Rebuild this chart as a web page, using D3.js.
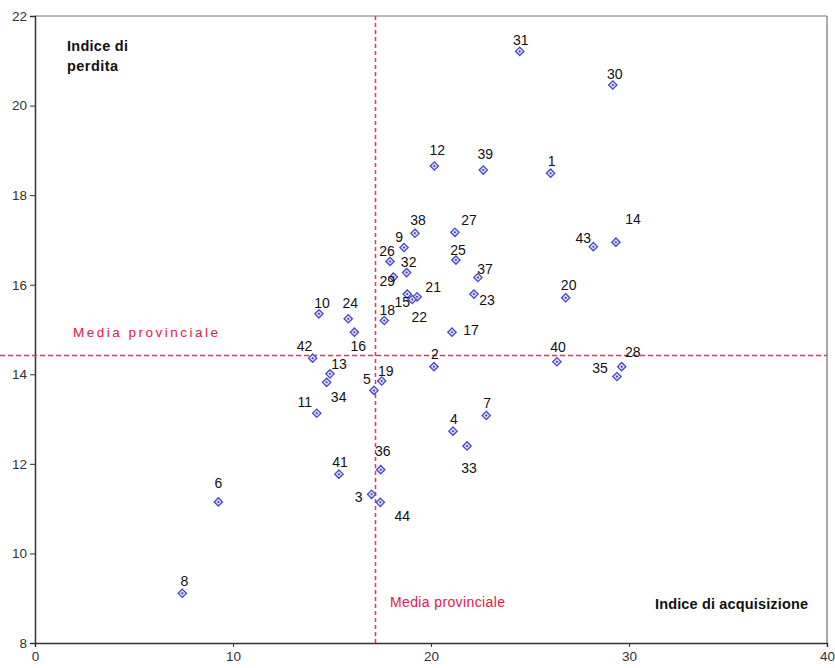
<!DOCTYPE html>
<html><head><meta charset="utf-8">
<script src="https://cdn.jsdelivr.net/npm/d3@7/dist/d3.min.js"></script>
<style>body{margin:0;background:#fff}svg{display:block}</style>
</head><body>
<svg id="c" width="835" height="668"></svg>
<script>
// Data
const ids = [1,2,3,4,5,6,7,8,9,10,11,12,13,14,15,16,17,18,19,20,21,22,23,24,25,26,27,28,29,30,31,32,33,34,35,36,37,38,39,40,41,42,43,44];
const acquisizione = [26.04,20.15,17.0,21.11,17.12,9.26,22.79,7.44,18.64,14.34,14.23,20.17,14.9,29.34,18.8,16.13,21.06,17.64,17.51,26.8,19.3,19.05,22.17,15.82,21.26,17.93,21.21,29.63,18.1,29.18,24.48,18.77,21.82,14.73,29.39,17.46,22.37,19.19,22.64,26.36,15.35,14.02,28.2,17.44];
const perdita = [18.49,14.17,11.32,12.73,13.64,11.15,13.08,9.11,16.83,15.35,13.13,18.65,14.01,16.95,15.79,14.94,14.94,15.2,13.85,15.71,15.73,15.67,15.79,15.24,16.55,16.52,17.17,14.17,16.17,20.46,21.21,16.27,12.4,13.82,13.95,11.87,16.16,17.15,18.56,14.28,11.77,14.36,16.85,11.14];
const mediaAcquisizione = 17.17;
const mediaPerdita = 14.42;
const xTicks = [0,10,20,30,40];
const yTicks = [8,10,12,14,16,18,20,22];

// Label offsets (layout only)
const labelOffset = {
  1:[1,-12],2:[1,-13],3:[-13,3],4:[1,-12],5:[-7,-11],6:[0,-19],7:[1,-12],8:[2,-12],
  9:[-5,-11],10:[3,-11],11:[-12,-11],12:[3,-16],13:[9,-10],14:[17,-23],15:[-5,8],
  16:[4,14],17:[19,-2],18:[3,-11],19:[4,-10],20:[3,-13],21:[16,-10],22:[7,18],
  23:[13,6],24:[2,-16],25:[2,-10],26:[-3,-10],27:[14,-12],28:[11,-15],29:[-6,4],
  30:[2,-11],31:[1,-11],32:[2,-11],33:[2,22],34:[12,15],35:[-17,-9],36:[2,-19],
  37:[7,-9],38:[3,-13],39:[2,-16],40:[1,-15],41:[1,-12],42:[-8,-12],43:[-10,-9],44:[22,14]
};

const svg = d3.select("#c");
const L = 35, R = 827, T = 16, B = 643;
const x = d3.scaleLinear().domain([0,40]).range([L,R]);
const y = d3.scaleLinear().domain([8,22]).range([B,T]);
const font = "'Liberation Sans', Arial, sans-serif";

// frame
svg.append("line").attr("x1",L).attr("x2",R).attr("y1",T).attr("y2",T).attr("stroke","#777").attr("stroke-width",1);
svg.append("line").attr("x1",R).attr("x2",R).attr("y1",T).attr("y2",B).attr("stroke","#555").attr("stroke-width",1);

// axes
const yAxis = svg.append("g").attr("transform",`translate(${L},0)`)
  .call(d3.axisLeft(y).tickValues(yTicks).tickSize(5).tickPadding(3).tickFormat(d3.format("d")));
const xAxis = svg.append("g").attr("transform",`translate(0,${B})`)
  .call(d3.axisBottom(x).tickValues(xTicks).tickSize(4).tickPadding(4).tickFormat(d3.format("d")));
[yAxis,xAxis].forEach(g=>{
  g.select(".domain").attr("stroke","#333").attr("stroke-width",1.5);
  g.selectAll(".tick line").attr("stroke","#333");
  g.selectAll(".tick text").attr("fill","#333").attr("font-family",font).attr("font-size",13.5);
});

// mean lines
const red = "#ee2f62";
const hy = Math.round(y(mediaPerdita)) + 0.5;
const vx = Math.round(x(mediaAcquisizione)) + 0.5;
svg.append("line").attr("x1",0).attr("x2",R).attr("y1",hy).attr("y2",hy)
  .attr("stroke",red).attr("stroke-width",1.5).attr("stroke-dasharray","5,3");
svg.append("line").attr("x1",vx).attr("x2",vx).attr("y1",T).attr("y2",B)
  .attr("stroke",red).attr("stroke-width",1.5).attr("stroke-dasharray","4,3");

svg.append("text").attr("x",73).attr("y",y(mediaPerdita)-18).attr("fill","#e0204a")
  .attr("font-family",font).attr("font-size",13.5).attr("textLength",145).attr("lengthAdjust","spacing").text("Media provinciale");
svg.append("text").attr("x",x(mediaAcquisizione)+15).attr("y",607).attr("fill","#e0204a")
  .attr("font-family",font).attr("font-size",14).attr("textLength",115).attr("lengthAdjust","spacing").text("Media provinciale");

// axis titles
svg.append("text").attr("x",67).attr("y",51).attr("font-family",font).attr("font-size",14.5)
  .attr("font-weight","bold").attr("fill","#111").attr("textLength",61).text("Indice di");
svg.append("text").attr("x",67).attr("y",71).attr("font-family",font).attr("font-size",14.5)
  .attr("font-weight","bold").attr("fill","#111").attr("textLength",51).text("perdita");
svg.append("text").attr("x",655).attr("y",609).attr("font-family",font).attr("font-size",14.5)
  .attr("font-weight","bold").attr("fill","#111").attr("textLength",153).text("Indice di acquisizione");

// points
const pts = ids.map((id,i)=>({id, ax:acquisizione[i], pe:perdita[i]}));
const g = svg.append("g");
const diamond = d3.symbol().type(d3.symbolDiamond2).size(44);
g.selectAll("path.pt").data(pts).join("path").attr("class","pt")
  .attr("transform",d=>`translate(${x(d.ax)},${y(d.pe)})`)
  .attr("d",diamond).attr("fill","#dcdcf6").attr("stroke","#4848c8").attr("stroke-width",1.3);
g.selectAll("circle.dot").data(pts).join("circle").attr("class","dot")
  .attr("cx",d=>x(d.ax)).attr("cy",d=>y(d.pe)).attr("r",1).attr("fill","#3838a8");
g.selectAll("text.lbl").data(pts).join("text").attr("class","lbl")
  .attr("x",d=>x(d.ax)+labelOffset[d.id][0]).attr("y",d=>y(d.pe)+labelOffset[d.id][1])
  .attr("text-anchor","middle").attr("dominant-baseline","central")
  .attr("font-family",font).attr("font-size",14).attr("fill","#111").text(d=>d.id);
</script>
</body></html>
